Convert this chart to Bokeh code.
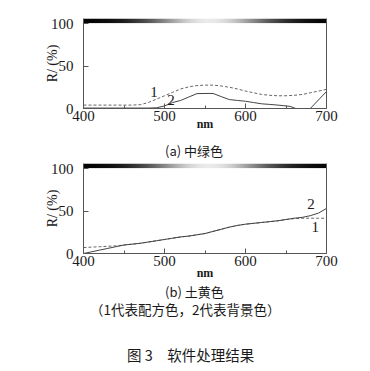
import numpy as np
from bokeh.plotting import figure
from bokeh.models import Label, FixedTicker, LinearAxis, Range1d, Div
from bokeh.layouts import column
from bokeh.embed import file_html
from bokeh.resources import INLINE

# ---------------- data ----------------
x_ticks = [400, 500, 600, 700]
x_minor = [450, 550, 650]
y_ticks = [0, 50, 100]

# (a) 中绿色
a_wl1 = [400, 410, 420, 430, 440, 450, 460, 470, 480, 490, 500, 510, 520, 530, 540,
         550, 560, 570, 580, 590, 600, 610, 620, 630, 640, 650, 660, 670, 680, 690, 700]
a_r1 = [4, 4, 4, 4, 4, 4, 4, 4.5, 7, 11, 15, 19, 23, 25.5, 27,
        27.5, 27.5, 26.5, 25, 23, 20.5, 18.5, 16.5, 15.5, 15, 15, 15.5, 16.5, 18.5, 20.5, 22.5]
a_wl2 = [400, 420, 440, 460, 480, 490, 500, 510, 520, 530, 540, 550, 560, 570, 580,
         590, 600, 610, 620, 630, 640, 650, 655, 662, 680, 700]
a_r2 = [0.5, 0.5, 0.5, 0.5, 0.5, 0.8, 3, 7, 9.5, 13.5, 17.5, 17.7, 17.7, 14, 10.5,
        9.5, 8.5, 7, 5.5, 4.8, 4, 3, 2.5, 0, 0, 20]

# (b) 土黄色
b_wl = [400, 410, 420, 430, 440, 450, 460, 470, 480, 490, 500, 510, 520, 530, 540,
        550, 560, 570, 580, 590, 600, 610, 620, 630, 640, 650, 660, 670, 680, 690, 700]
b_r1 = [7, 7.5, 8, 8.5, 9, 10, 11, 12, 13.5, 15, 16.5, 18, 19.5, 20.5, 22,
        23.5, 26, 28.5, 31, 33, 34.5, 35.5, 36.5, 37.5, 38.5, 40, 41, 41.5, 41.5, 41.5, 41.5]
b_r2 = [0, 2, 4, 6, 8, 10, 11, 12, 13.5, 15, 16.5, 18, 19.5, 20.5, 22,
        23.5, 26, 28.5, 31, 33, 34.5, 35.5, 36.5, 37.5, 38.5, 40, 41.5, 42.5, 44.5, 47.5, 53]

cap_a_text = "(a) 中绿色"
cap_b_text = "(b) 土黄色"
legend_text = "（1代表配方色，2代表背景色）"
fig_title = "图 3　软件处理结果"

SERIF = "Liberation Serif"
CJK = "Noto Sans CJK SC"
AXC = "#555555"
TXT = "#1a1a1a"

# gradient strip (decoration)
gw = np.arange(400, 701)
gray = (235 * np.exp(-((gw - 555) / 75.0) ** 2)).astype(np.uint32)
rgba = (np.uint32(255) << 24) | (gray << 16) | (gray << 8) | gray
strip = rgba.reshape(1, -1).astype(np.uint32)


def make_panel(top, bottom, wl1, r1, wl2, r2, lab1, lab2, nm_standoff):
    p = figure(width=370, frame_width=243, frame_height=90,
               min_border_left=83, min_border_right=44, min_border_top=top,
               min_border_bottom=bottom, output_backend="svg", toolbar_location=None,
               x_range=Range1d(400, 700), y_range=Range1d(0, 105.9))
    p.outline_line_color = None
    p.grid.visible = False

    p.image_rgba(image=[strip], x=400, y=100.5, dw=300, dh=5.4)

    for ax in (p.xaxis[0], p.yaxis[0]):
        ax.axis_line_color = AXC
        ax.major_tick_line_color = AXC
        ax.minor_tick_line_color = AXC
        ax.major_tick_out = 0
        ax.major_tick_in = 5
        ax.minor_tick_out = 0
        ax.minor_tick_in = 3
        ax.major_label_text_font = SERIF
        ax.major_label_text_font_size = "15px"
        ax.major_label_text_color = TXT
    p.xaxis.ticker = FixedTicker(ticks=x_ticks, minor_ticks=x_minor)
    p.yaxis.ticker = FixedTicker(ticks=y_ticks, minor_ticks=[])
    p.xaxis.major_label_standoff = 2
    p.yaxis.major_label_standoff = 10

    p.xaxis.axis_label = "nm"
    p.xaxis.axis_label_text_font = SERIF
    p.xaxis.axis_label_text_font_style = "bold"
    p.xaxis.axis_label_text_font_size = "12px"
    p.xaxis.axis_label_text_color = TXT
    p.xaxis.axis_label_standoff = nm_standoff

    p.yaxis.axis_label = "R/ (%)"
    p.yaxis.axis_label_text_font = SERIF
    p.yaxis.axis_label_text_font_style = "normal"
    p.yaxis.axis_label_text_font_size = "14px"
    p.yaxis.axis_label_text_color = TXT
    p.yaxis.axis_label_standoff = -12

    right = LinearAxis(ticker=FixedTicker(ticks=[], minor_ticks=[]),
                       axis_line_color=AXC, major_label_text_font_size="0px",
                       major_tick_in=0, major_tick_out=0)
    p.add_layout(right, "right")

    p.line(wl1, r1, line_color="#666666", line_width=1, line_dash="3 2")
    p.line(wl2, r2, line_color="#444444", line_width=1)

    for (lx, ly, t) in (lab1, lab2):
        p.add_layout(Label(x=lx, y=ly, text=t, text_font=SERIF, text_font_size="15px",
                           text_align="center", text_baseline="middle", text_color=TXT))
    return p


def caption_div(height, items):
    spans = []
    for (lx, cy, t, size) in items:
        spans.append(
            f'<span style="position:absolute;left:{lx}px;top:{cy}px;'
            f'transform:translateY(-50%);font-family:\'{CJK}\';font-size:{size};'
            f'color:{TXT};white-space:nowrap;line-height:1;">{t}</span>')
    html = (f'<div style="position:relative;width:370px;height:{height}px;">'
            + "".join(spans) + '</div>')
    return Div(text=html, width=370, height=height, margin=(0, 0, 0, 0))


pa = make_panel(18, 30, a_wl1, a_r1, a_wl2, a_r2,
                (487, 20, "1"), (508, 10, "2"), -7)
cap_a = caption_div(24, [(165, 12, cap_a_text, "13px")])
pb = make_panel(1, 30, b_wl, b_r1, b_wl, b_r2,
                (686, 31, "1"), (681, 58.5, "2"), -3)
cap_b = caption_div(88, [(165, 8, cap_b_text, "13px"),
                         (90, 26.5, legend_text, "13.5px"),
                         (127, 72, fig_title, "14.5px")])

layout = column(pa, cap_a, pb, cap_b, spacing=0)
open("out.html", "w").write(file_html(layout, INLINE))
